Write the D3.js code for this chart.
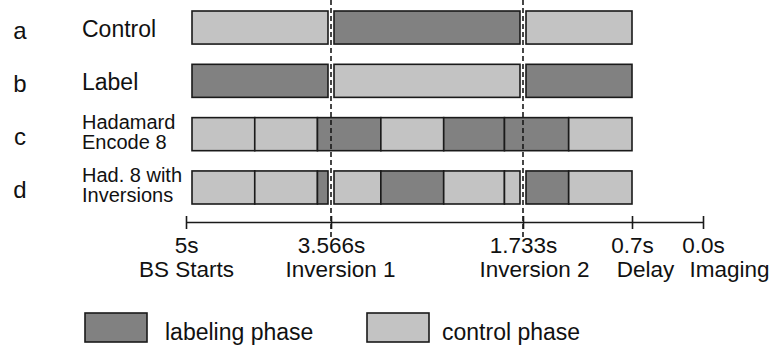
<!DOCTYPE html>
<html>
<head>
<meta charset="utf-8">
<script src="https://cdn.jsdelivr.net/npm/d3@7"></script>
<style>
    body { margin: 0; background: #fff; }
    svg text { font-family: "Liberation Sans", Arial, sans-serif; fill: #111; }
</style>
</head>
<body>
<div id="chart"></div>
<script>
// rows of the timing diagram
var rowLetters = ["a", "b", "c", "d"];
var rowNames = [["Control"], ["Label"], ["Hadamard", "Encode 8"], ["Had. 8 with", "Inversions"]];

// time axis (seconds before imaging)
var tickTimes = [5, 3.566, 1.733, 0.7, 0];
var tickValues = ["5s", "3.566s", "1.733s", "0.7s", "0.0s"];
var tickEvents = ["BS Starts", "Inversion 1", "Inversion 2", "Delay", "Imaging"];
var inversionTimes = [3.566, 1.733];

// segments per row: [from, to, phase]   L = labeling, C = control
var controlRow = [[5, 3.566, "C"], [3.566, 1.733, "L"], [1.733, 0.7, "C"]];
var labelRow = [[5, 3.566, "L"], [3.566, 1.733, "C"], [1.733, 0.7, "L"]];
var hadamardRow = [[5, 4.32, "C"], [4.32, 3.70, "C"], [3.70, 3.09, "L"], [3.09, 2.49, "C"],
    [2.49, 1.91, "L"], [1.91, 1.30, "L"], [1.30, 0.7, "C"]];
var hadInvRow = [[5, 4.32, "C"], [4.32, 3.70, "C"], [3.70, 3.566, "L"], [3.566, 3.09, "C"],
    [3.09, 2.49, "L"], [2.49, 1.91, "C"], [1.91, 1.733, "C"], [1.733, 1.30, "L"], [1.30, 0.7, "C"]];

var legendPhases = ["L", "C"];
var legendLabels = ["labeling phase", "control phase"];

var rows = [controlRow, labelRow, hadamardRow, hadInvRow];
var phaseColor = { L: "#818181", C: "#c3c3c3" };
var ink = "#1a1a1a";

var svg = d3.select("#chart").append("svg")
    .attr("width", 773)
    .attr("height", 352);

// the original drawing is not to scale, so the axis is piecewise linear
var x = d3.scaleLinear()
    .domain(tickTimes)
    .range([186, 331, 523, 632, 703]);

var y = d3.scaleBand()
    .domain(rowLetters)
    .range([11, 204])
    .paddingInner(0.38)
    .paddingOuter(0);

var startPad = 6,
    gapPad = 3;

function segStart(t) {
    return x(t) + (t === tickTimes[0] ? startPad : inversionTimes.indexOf(t) >= 0 ? gapPad : 0);
}

function segEnd(t) {
    return x(t) - (inversionTimes.indexOf(t) >= 0 ? gapPad : 0);
}

// bars
rows.forEach(function(segs, i) {
    svg.append("g")
        .selectAll("rect")
        .data(segs)
        .enter().append("rect")
        .attr("x", function(d) { return segStart(d[0]); })
        .attr("width", function(d) { return segEnd(d[1]) - segStart(d[0]); })
        .attr("y", y(rowLetters[i]))
        .attr("height", y.bandwidth())
        .attr("fill", function(d) { return phaseColor[d[2]]; })
        .attr("stroke", ink)
        .attr("stroke-width", 1.6);
});

// inversion markers
svg.append("g")
    .selectAll("line")
    .data(inversionTimes)
    .enter().append("line")
    .attr("x1", function(d) { return x(d); })
    .attr("x2", function(d) { return x(d); })
    .attr("y1", 0)
    .attr("y2", 238)
    .attr("stroke", ink)
    .attr("stroke-width", 1.6)
    .attr("stroke-dasharray", "5,3");

// row letters and names
var rowLabel = svg.append("g")
    .selectAll("g")
    .data(rowLetters)
    .enter().append("g")
    .attr("transform", function(d) {
        return "translate(0," + (y(d) + y.bandwidth() / 2) + ")";
    });

rowLabel.append("text")
    .attr("x", 20)
    .attr("y", 11)
    .attr("text-anchor", "middle")
    .attr("font-size", 24)
    .text(function(d) { return d; });

rowLabel.each(function(d, i) {
    var lines = rowNames[i];
    var t = d3.select(this).append("text")
        .attr("x", 82)
        .attr("font-size", lines.length > 1 ? 20 : 23);
    lines.forEach(function(s, j) {
        t.append("tspan")
            .attr("x", 82)
            .attr("y", lines.length > 1 ? -5 + j * 20 : 9)
            .text(s);
    });
});

// time axis
var axisY = 222;
var axis = svg.append("g")
    .attr("transform", "translate(0," + axisY + ")")
    .call(d3.axisBottom(x)
        .tickValues(tickTimes)
        .tickSize(7)
        .tickSizeOuter(0)
        .tickFormat(function(d, i) { return tickValues[i]; }));

axis.attr("font-family", null).attr("font-size", null);
axis.select(".domain").attr("stroke", ink).attr("stroke-width", 1.6);
axis.selectAll(".tick line")
    .attr("y1", -6)
    .attr("stroke", ink)
    .attr("stroke-width", 1.6);
axis.selectAll(".tick text")
    .attr("y", 31)
    .attr("dy", null)
    .attr("font-size", 22.5)
    .attr("fill", ink);

var eventShift = [0, 9, 11, 13, 26];
axis.selectAll(".tick")
    .append("text")
    .attr("x", function(d, i) { return eventShift[i]; })
    .attr("y", 55)
    .attr("text-anchor", "middle")
    .attr("font-size", 22.5)
    .attr("fill", ink)
    .text(function(d, i) { return tickEvents[i]; });

// legend
var legend = svg.append("g")
    .selectAll("g")
    .data(legendPhases)
    .enter().append("g")
    .attr("transform", function(d, i) {
        return "translate(" + (85 + i * 282) + ",313)";
    });

legend.append("rect")
    .attr("width", 62)
    .attr("height", 29)
    .attr("fill", function(d) { return phaseColor[d]; })
    .attr("stroke", ink)
    .attr("stroke-width", 1.6);

legend.append("text")
    .attr("x", function(d, i) { return i === 0 ? 80 : 75; })
    .attr("y", 27)
    .attr("font-size", 23)
    .text(function(d, i) { return legendLabels[i]; });
</script>
</body>
</html>
